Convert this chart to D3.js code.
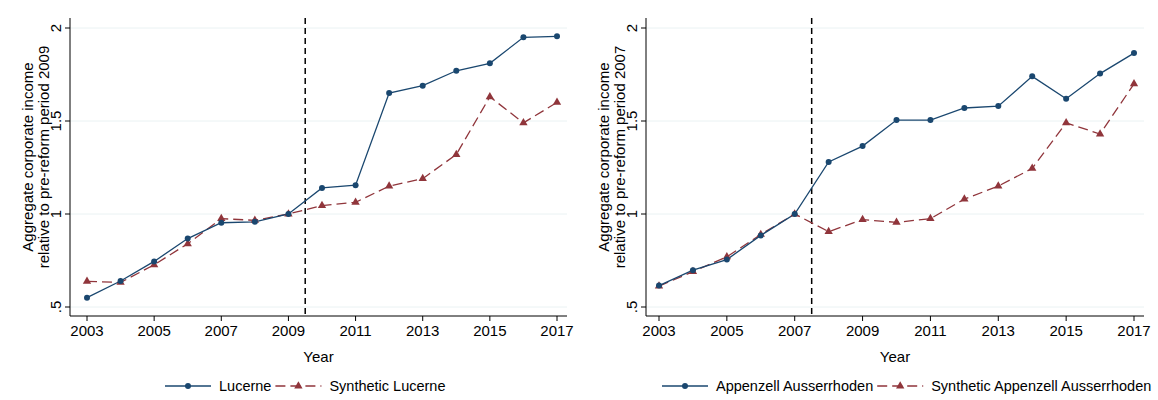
<!DOCTYPE html>
<html><head><meta charset="utf-8">
<script src="https://cdn.jsdelivr.net/npm/d3@7"></script>
<style>body{margin:0;background:#fff;font-family:"Liberation Sans",Arial,sans-serif}</style>
</head><body><svg width="1158" height="400"></svg>
<script>
const years = d3.range(2003, 2018);
const yTicks = [0.5, 1, 1.5, 2];
const yTickLabels = [".5", "1", "1.5", "2"];
const xTicks = [2003, 2005, 2007, 2009, 2011, 2013, 2015, 2017];

const lucerne = [0.55, 0.64, 0.745, 0.868, 0.953, 0.958, 1.0, 1.14, 1.155, 1.65, 1.69, 1.77, 1.81, 1.95, 1.955];
const synthLucerne = [0.638, 0.632, 0.727, 0.84, 0.975, 0.966, 1.0, 1.045, 1.063, 1.15, 1.19, 1.32, 1.63, 1.49, 1.6];
const appenzell = [0.615, 0.698, 0.755, 0.885, 1.0, 1.28, 1.365, 1.505, 1.505, 1.57, 1.58, 1.74, 1.62, 1.755, 1.865];
const synthAppenzell = [0.612, 0.69, 0.77, 0.89, 1.0, 0.905, 0.97, 0.955, 0.975, 1.08, 1.15, 1.245, 1.49, 1.43, 1.70];

const panels = [
  {x0: 70, x1: 567, xa: 87, xb: 557, real: lucerne, synth: synthLucerne, cut: 2009.5,
   ytitle: ["Aggregate corporate income", "relative to pre-reform period 2009"],
   names: ["Lucerne", "Synthetic Lucerne"], legX: 165},
  {x0: 646, x1: 1144, xa: 659, xb: 1134, real: appenzell, synth: synthAppenzell, cut: 2007.5,
   ytitle: ["Aggregate corporate income", "relative to pre-reform period 2007"],
   names: ["Appenzell Ausserrhoden", "Synthetic Appenzell Ausserrhoden"], legX: 662}
];

const blue = '#1a476f', red = '#90353b';
const fs = '15px', lfs = '14.5px';
const svg = d3.select('svg');

panels.forEach(p => {
  const g = svg.append('g');
  const x = d3.scaleLinear().domain([2003, 2017]).range([p.xa, p.xb]);
  const y = d3.scaleLinear().domain([0.5, 2]).range([307, 28]);
  const top = 18, bottom = 316;

  // grid
  g.selectAll('line.grid').data(yTicks).enter().append('line')
    .attr('x1', p.x0).attr('x2', p.x1).attr('y1', d => y(d)).attr('y2', d => y(d))
    .style('stroke', '#eaf2f3').style('stroke-width', 1);

  // y axis
  g.append('line').attr('x1', p.x0).attr('x2', p.x0).attr('y1', top).attr('y2', bottom).style('stroke', '#000');
  yTicks.forEach((t, i) => {
    g.append('line').attr('x1', p.x0 - 5).attr('x2', p.x0).attr('y1', y(t)).attr('y2', y(t)).style('stroke', '#000');
    g.append('text').attr('transform', `translate(${p.x0 - 9},${y(t)}) rotate(-90)`)
      .attr('text-anchor', 'middle').style('font-size', fs).text(yTickLabels[i]);
  });
  // x axis
  g.append('line').attr('x1', p.x0).attr('x2', p.x1).attr('y1', bottom).attr('y2', bottom).style('stroke', '#000');
  xTicks.forEach(t => {
    g.append('line').attr('x1', x(t)).attr('x2', x(t)).attr('y1', bottom).attr('y2', bottom + 5).style('stroke', '#000');
    g.append('text').attr('x', x(t)).attr('y', bottom + 20).attr('text-anchor', 'middle')
      .style('font-size', fs).text(t);
  });
  g.append('text').attr('x', (p.x0 + p.x1) / 2).attr('y', 362).attr('text-anchor', 'middle')
    .style('font-size', fs).text('Year');
  p.ytitle.forEach((s, i) => {
    g.append('text').attr('transform', `translate(${p.x0 - 37 + i * 16},${(top + bottom) / 2 - 10}) rotate(-90)`)
      .attr('text-anchor', 'middle').style('font-size', fs).text(s);
  });

  // cutoff
  g.append('line').attr('x1', x(p.cut)).attr('x2', x(p.cut)).attr('y1', top).attr('y2', bottom)
    .style('stroke', '#000').style('stroke-width', 1.5).style('stroke-dasharray', '6,4');

  const line = d3.line().x((d, i) => x(years[i])).y(d => y(d));
  g.append('path').attr('d', line(p.synth)).style('fill', 'none').style('stroke', red)
    .style('stroke-width', 1.3).style('stroke-dasharray', '10,5');
  g.append('path').attr('d', line(p.real)).style('fill', 'none').style('stroke', blue).style('stroke-width', 1.3);
  const tri = d3.symbol().type(d3.symbolTriangle).size(30);
  g.selectAll('path.tri').data(p.synth).enter().append('path')
    .attr('d', tri).attr('transform', (d, i) => `translate(${x(years[i])},${y(d)})`).style('fill', red);
  g.selectAll('circle.pt').data(p.real).enter().append('circle')
    .attr('cx', (d, i) => x(years[i])).attr('cy', d => y(d)).attr('r', 3).style('fill', blue);

  // legend
  const lx = p.legX, ly = 386;
  g.append('line').attr('x1', lx).attr('x2', lx + 46).attr('y1', ly).attr('y2', ly).style('stroke', blue).style('stroke-width', 1.3);
  g.append('circle').attr('cx', lx + 23).attr('cy', ly).attr('r', 3).style('fill', blue);
  const t1 = g.append('text').attr('x', lx + 54).attr('y', ly + 5).style('font-size', lfs).text(p.names[0]);
  const l2 = lx + 54 + t1.node().getComputedTextLength() + 4;
  g.append('line').attr('x1', l2).attr('x2', l2 + 46).attr('y1', ly).attr('y2', ly).style('stroke', red)
    .style('stroke-width', 1.3).style('stroke-dasharray', '10,5');
  g.append('path').attr('d', tri).attr('transform', `translate(${l2 + 23},${ly})`).style('fill', red);
  g.append('text').attr('x', l2 + 54).attr('y', ly + 5).style('font-size', lfs).text(p.names[1]);
});
</script></body></html>
